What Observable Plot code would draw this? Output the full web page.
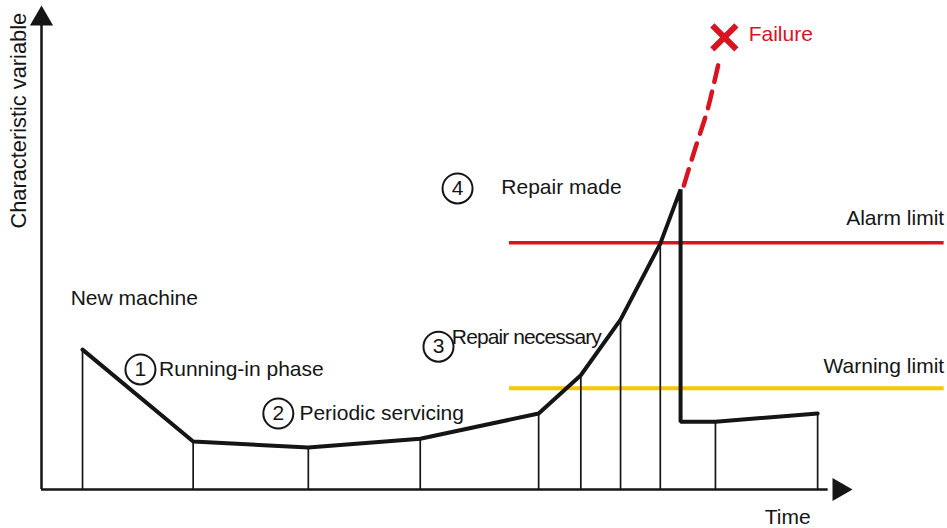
<!DOCTYPE html>
<html>
<head>
<meta charset="utf-8">
<script src="https://cdn.jsdelivr.net/npm/d3@7"></script>
<script src="https://cdn.jsdelivr.net/npm/@observablehq/plot@0.6"></script>
<style>
  html, body { margin: 0; padding: 0; background: #fff; }
  svg { font-family: "Liberation Sans", Arial, sans-serif; }
</style>
</head>
<body>
<div id="chart"></div>
<script>
// Time (0-100) and characteristic variable (0-100)
const curveTime  = [5.06, 18.7, 32.9, 46.7, 61.3, 66.5, 71.4, 76.3, 78.8, 78.8, 83.1, 95.7];
const curveValue = [28.9,  9.9,  8.7, 10.5, 15.7, 23.6, 35.1, 50.8, 62.0, 14.0, 14.0, 15.7];
// Inspection (vertical) lines
const inspTime  = [5.06, 18.7, 32.9, 46.7, 61.3, 66.5, 71.4, 76.3, 83.1, 95.7];
const inspValue = [28.9,  9.9,  8.7, 10.5, 15.7, 23.6, 35.1, 50.8, 14.0, 15.7];
// Extrapolated path to failure
const failTime  = [79.2, 80.8, 82.1, 83.0, 83.7];
const failValue = [62.8, 71.5, 78.3, 84.5, 89.5];
const failurePoint = {t: 84.2, v: 93.4};
// Limits
const alarmLimit = 51.0;
const warningLimit = 20.9;
const limitStart = 57.7, limitEnd = 111.3;
// Numbered annotations
const stepNumbers = ["1", "2", "3", "4"];
const stepCircleT = [12.2, 29.2, 48.95, 51.3];
const stepCircleV = [24.8, 15.7, 29.5, 62.2];
const stepLabels  = ["Running-in phase", "Periodic servicing", "Repair necessary", "Repair made"];
const stepLabelT  = [14.5, 31.8, 50.6, 56.7];
const stepLabelV  = [24.8, 15.7, 31.4, 62.4];

const curve = curveTime.map((t, i) => ({t, v: curveValue[i]}));
const insp = inspTime.map((t, i) => ({t, v: inspValue[i]}));
const fail = failTime.map((t, i) => ({t, v: failValue[i]}));
const circles = stepNumbers.map((n, i) => ({n, t: stepCircleT[i], v: stepCircleV[i]}));
const labels = stepLabels.map((s, i) => ({s, t: stepLabelT[i], v: stepLabelV[i]}));

const RED = "#d7141f", YELLOW = "#f7c600", FS = 21, INK = "#151515";

const chart = Plot.plot({
  width: 947, height: 528,
  margin: 0,
  x: {domain: [0, 100], range: [41, 852], axis: null},
  y: {domain: [0, 100], range: [489, 5], axis: null},
  style: {fontFamily: "'Liberation Sans', Arial, sans-serif", background: "#fff"},
  marks: [
    // limits
    Plot.ruleY([alarmLimit], {x1: limitStart, x2: limitEnd, stroke: RED, strokeWidth: 3.5}),
    Plot.ruleY([warningLimit], {x1: limitStart, x2: limitEnd, stroke: YELLOW, strokeWidth: 4}),
    // inspection lines
    Plot.ruleX(insp, {x: "t", y1: 0, y2: "v", stroke: INK, strokeWidth: 1.7}),
    // axes
    Plot.ruleY([0], {x1: 0, x2: 97, stroke: INK, strokeWidth: 2.5}),
    Plot.ruleX([0], {y1: 0, y2: 96, stroke: INK, strokeWidth: 2.5}),
    Plot.dot([{t: 0, v: 97.25}], {x: "t", y: "v", symbol: "triangle", r: 8.6, fill: INK, stroke: "none"}),
    Plot.dot([{t: 98.36, v: 0}], {x: "t", y: "v", symbol: "triangle", r: 8.6, fill: INK, stroke: "none", rotate: 90}),
    // main curve
    Plot.line(curve, {x: "t", y: "v", stroke: INK, strokeWidth: 4, strokeLinejoin: "miter"}),
    // failure path
    Plot.line(fail, {x: "t", y: "v", stroke: RED, strokeWidth: 4.5, strokeDasharray: "17,10", curve: "natural"}),
    Plot.dot([failurePoint], {x: "t", y: "v", symbol: "times", r: 11, stroke: RED, strokeWidth: 6}),
    Plot.text([failurePoint], {x: d => d.t + 3.0, y: d => d.v + 0.6, text: () => "Failure", fill: RED, fontSize: FS, textAnchor: "start"}),
    // numbered circles
    Plot.dot(circles, {x: "t", y: "v", r: 15, stroke: INK, strokeWidth: 2, fill: "none"}),
    Plot.text(circles, {x: "t", y: "v", text: "n", fontSize: 21, fill: INK}),
    Plot.text(labels, {x: "t", y: "v", text: "s", fontSize: FS, textAnchor: "start", fill: INK}),
    // other labels
    Plot.text(["New machine"], {x: 3.6, y: 39.5, text: d => d, fontSize: FS, textAnchor: "start", fill: INK}),
    Plot.text(["Alarm limit"], {x: 111.3, y: 56.0, text: d => d, fontSize: FS, textAnchor: "end", fill: INK}),
    Plot.text(["Warning limit"], {x: 111.3, y: 25.4, text: d => d, fontSize: FS, textAnchor: "end", fill: INK}),
    Plot.text(["Time"], {x: 92.0, y: -5.8, text: d => d, fontSize: FS, fill: INK}),
    Plot.text(["Characteristic variable"], {x: -2.8, y: 76.2, text: d => d, fontSize: 21.8, rotate: -90, fill: INK})
  ]
});
// the "Repair necessary" label is set tighter in the original
d3.select(chart).selectAll("text")
  .filter(function () { return this.textContent === "Repair necessary"; })
  .attr("letter-spacing", "-0.9");
document.getElementById("chart").appendChild(chart);
</script>
</body>
</html>
